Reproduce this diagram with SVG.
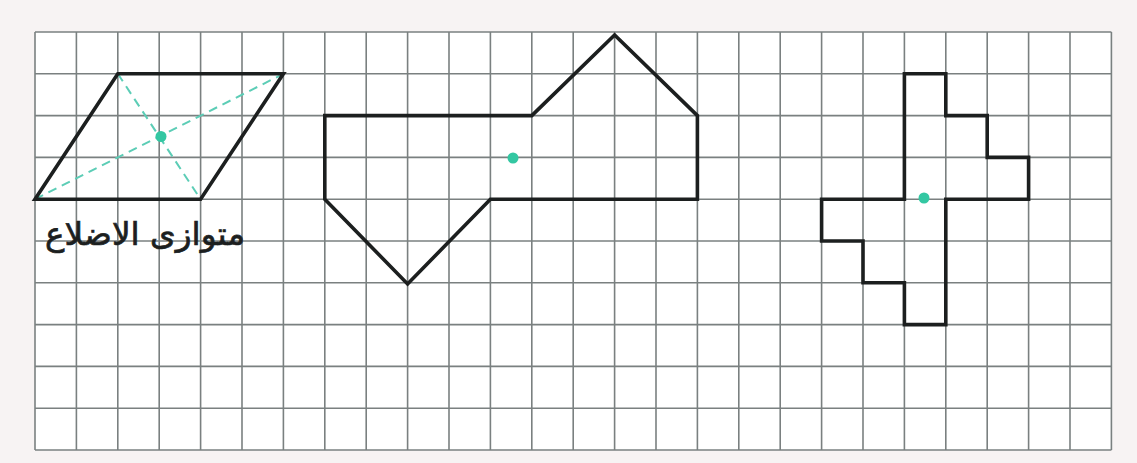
<svg xmlns="http://www.w3.org/2000/svg" width="1137" height="463" viewBox="0 0 1137 463">
  <style>
    .grid line { stroke: #7a8080; stroke-width: 1.6; }
    .shape { fill: none; stroke: #1c1f1f; stroke-width: 3.6; stroke-linejoin: miter; }
    .diag { stroke: #5ccdb6; stroke-width: 2; stroke-dasharray: 9 6; fill: none; }
    .dot { fill: #33c7a2; }
    .label { font-family: "DejaVu Sans", sans-serif; font-size: 32px; fill: #1c1f1f; stroke: #1c1f1f; stroke-width: 0.7; }
  </style>
  <rect x="0" y="0" width="1137" height="463" fill="#f7f3f3"/>
  <rect x="35" y="32" width="1076.4" height="418" fill="#ffffff"/>
  <g id="grid" class="grid">
    <line x1="35" y1="32" x2="1111.4" y2="32"/>
    <line x1="35" y1="73.8" x2="1111.4" y2="73.8"/>
    <line x1="35" y1="115.6" x2="1111.4" y2="115.6"/>
    <line x1="35" y1="157.4" x2="1111.4" y2="157.4"/>
    <line x1="35" y1="199.2" x2="1111.4" y2="199.2"/>
    <line x1="35" y1="241" x2="1111.4" y2="241"/>
    <line x1="35" y1="282.8" x2="1111.4" y2="282.8"/>
    <line x1="35" y1="324.6" x2="1111.4" y2="324.6"/>
    <line x1="35" y1="366.4" x2="1111.4" y2="366.4"/>
    <line x1="35" y1="408.2" x2="1111.4" y2="408.2"/>
    <line x1="35" y1="450" x2="1111.4" y2="450"/>
    <line x1="35" y1="32" x2="35" y2="450"/>
    <line x1="76.4" y1="32" x2="76.4" y2="450"/>
    <line x1="117.8" y1="32" x2="117.8" y2="450"/>
    <line x1="159.2" y1="32" x2="159.2" y2="450"/>
    <line x1="200.6" y1="32" x2="200.6" y2="450"/>
    <line x1="242" y1="32" x2="242" y2="450"/>
    <line x1="283.4" y1="32" x2="283.4" y2="450"/>
    <line x1="324.8" y1="32" x2="324.8" y2="450"/>
    <line x1="366.2" y1="32" x2="366.2" y2="450"/>
    <line x1="407.6" y1="32" x2="407.6" y2="450"/>
    <line x1="449" y1="32" x2="449" y2="450"/>
    <line x1="490.4" y1="32" x2="490.4" y2="450"/>
    <line x1="531.8" y1="32" x2="531.8" y2="450"/>
    <line x1="573.2" y1="32" x2="573.2" y2="450"/>
    <line x1="614.6" y1="32" x2="614.6" y2="450"/>
    <line x1="656" y1="32" x2="656" y2="450"/>
    <line x1="697.4" y1="32" x2="697.4" y2="450"/>
    <line x1="738.8" y1="32" x2="738.8" y2="450"/>
    <line x1="780.2" y1="32" x2="780.2" y2="450"/>
    <line x1="821.6" y1="32" x2="821.6" y2="450"/>
    <line x1="863" y1="32" x2="863" y2="450"/>
    <line x1="904.4" y1="32" x2="904.4" y2="450"/>
    <line x1="945.8" y1="32" x2="945.8" y2="450"/>
    <line x1="987.2" y1="32" x2="987.2" y2="450"/>
    <line x1="1028.6" y1="32" x2="1028.6" y2="450"/>
    <line x1="1070" y1="32" x2="1070" y2="450"/>
    <line x1="1111.4" y1="32" x2="1111.4" y2="450"/>
  </g>
  <g id="parallelogram">
    <line class="diag" x1="35" y1="199.2" x2="283.4" y2="73.8"/>
    <line class="diag" x1="117.8" y1="73.8" x2="200.6" y2="199.2"/>
    <polygon class="shape" points="117.8,73.8 283.4,73.8 200.6,199.2 35,199.2"/>
    <circle class="dot" cx="161" cy="136.5" r="5.5"/>
    <text class="label" x="145" y="245" text-anchor="middle" direction="rtl" textLength="200" lengthAdjust="spacingAndGlyphs">متوازی الاضلاع</text>
  </g>
  <g id="middle-shape">
    <polygon class="shape" points="324.8,115.6 531.8,115.6 614.6,35 697.4,115.6 697.4,199.2 490.4,199.2 407.6,284 324.8,199.2"/>
    <circle class="dot" cx="513" cy="158" r="5.5"/>
  </g>
  <g id="cross-shape">
    <polygon class="shape" points="904.4,73.8 945.8,73.8 945.8,115.6 987.2,115.6 987.2,157.4 1028.6,157.4 1028.6,199.2 945.8,199.2 945.8,324.6 904.4,324.6 904.4,282.8 863,282.8 863,241 821.6,241 821.6,199.2 904.4,199.2"/>
    <circle class="dot" cx="924" cy="198" r="5.5"/>
  </g>
</svg>
